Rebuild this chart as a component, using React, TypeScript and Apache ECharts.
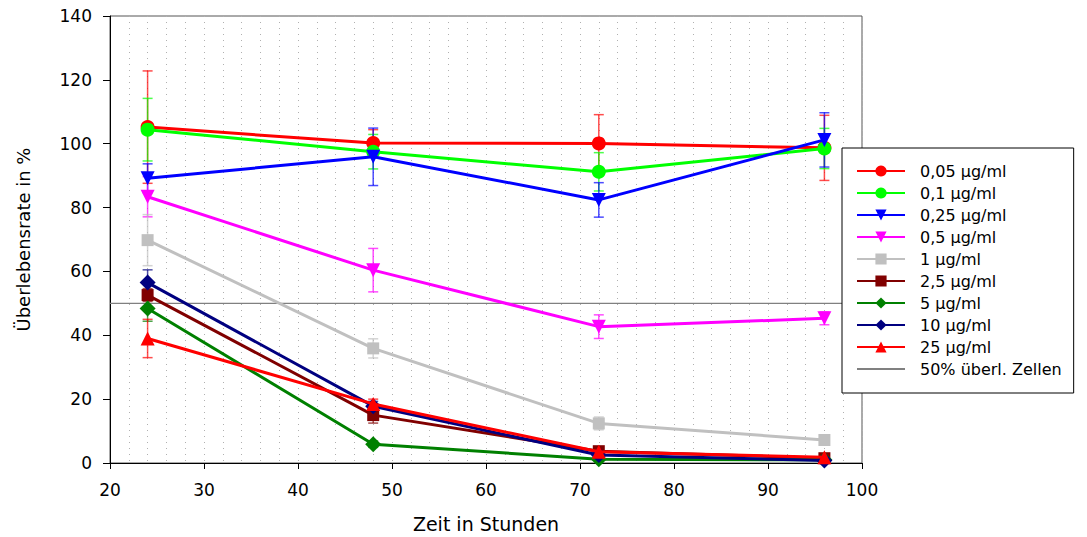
import React, { useEffect, useRef } from "react";
import * as echarts from "echarts";

const hours = [24, 48, 72, 96];
const names = ["0,05 µg/ml", "0,1 µg/ml", "0,25 µg/ml", "0,5 µg/ml", "1 µg/ml", "2,5 µg/ml", "5 µg/ml", "10 µg/ml", "25 µg/ml"];
const colors = ["#FF0000", "#00FF00", "#0000FF", "#FF00FF", "#C0C0C0", "#800000", "#008000", "#000080", "#FF0000"];
const symbols = ["circle", "circle", "triangle", "triangle", "rect", "rect", "diamond", "diamond", "triangle"];
const symbolRotations = [0, 0, 180, 180, 0, 0, 0, 0, 0];
const symbolSizes = [14, 14, 14, 14, 12, 12, 16, 16, 14];

const v005 = [105.2, 100.2, 100.1, 98.7];
const v01 = [104.4, 97.5, 91.2, 98.5];
const v025 = [89.2, 95.9, 82.4, 101.2];
const v05 = [83.4, 60.4, 42.7, 45.3];
const v1 = [69.8, 35.9, 12.4, 7.2];
const v25 = [52.6, 15.0, 3.7, 1.5];
const v5 = [48.4, 5.9, 1.2, 1.0];
const v10 = [56.5, 17.8, 2.5, 0.8];
const v25b = [39.0, 18.5, 3.5, 1.8];

const e005 = [17.6, 4.2, 9.0, 10.2];
const e01 = [9.8, 5.4, 6.0, 6.3];
const e025 = [4.5, 9.0, 5.4, 8.5];
const e05 = [6.3, 6.8, 3.7, 2.0];
const e1 = [8.0, 3.0, 2.0, 1.0];
const e25 = [2.0, 2.5, 1.0, 0.5];
const e5 = [4.0, 1.0, 0.5, 0.5];
const e10 = [4.0, 1.5, 1.0, 0.5];
const e25b = [6.0, 1.5, 1.0, 0.5];

const values = [v005, v01, v025, v05, v1, v25, v5, v10, v25b];
const errors = [e005, e01, e025, e05, e1, e25, e5, e10, e25b];

const refName = "50% überl. Zellen";
const refX = [20, 100];
const refY = 50;

const xTicks = { min: 20, max: 100, interval: 10 };
const yTicks = { min: 0, max: 140, interval: 20 };

const FONT = "DejaVu Sans";

export default function App() {
  const ref = useRef<HTMLDivElement>(null);
  useEffect(() => {
    if (!ref.current) return;
    const chart = echarts.init(ref.current, null, { renderer: "svg" });
    const series: any[] = [];
    series.push({
      name: refName,
      type: "line",
      data: refX.map((x) => [x, refY]),
      symbol: "none",
      lineStyle: { color: "#808080", width: 1.2 },
      itemStyle: { color: "#808080" },
      z: 1,
    });
    names.forEach((n, i) => {
      series.push({
        name: n + "_err",
        type: "custom",
        data: hours.map((h, j) => [h, values[i][j] - errors[i][j], values[i][j] + errors[i][j]]),
        renderItem: (params: any, api: any) => {
          const x = api.value(0);
          const lo = api.coord([x, api.value(1)]);
          const hi = api.coord([x, api.value(2)]);
          const st = { stroke: colors[i], lineWidth: 1.5, opacity: 0.7 };
          return {
            type: "group",
            children: [
              { type: "line", shape: { x1: lo[0], y1: lo[1], x2: hi[0], y2: hi[1] }, style: st },
              { type: "line", shape: { x1: lo[0] - 5, y1: lo[1], x2: lo[0] + 5, y2: lo[1] }, style: st },
              { type: "line", shape: { x1: hi[0] - 5, y1: hi[1], x2: hi[0] + 5, y2: hi[1] }, style: st },
            ],
          };
        },
        z: 2,
        silent: true,
      });
    });
    names.forEach((n, i) => {
      series.push({
        name: n,
        type: "line",
        data: hours.map((h, j) => [h, values[i][j]]),
        symbol: symbols[i],
        symbolRotate: symbolRotations[i],
        symbolSize: symbolSizes[i],
        lineStyle: { color: colors[i], width: 3 },
        itemStyle: { color: colors[i] },
        z: 3 + i * 0.01,
      });
    });

    chart.setOption({
      animation: false,
      backgroundColor: "#fff",
      grid: {
        left: 110,
        right: 225,
        top: 16,
        bottom: 74,
        containLabel: false,
        outerBoundsMode: "none",
        show: true,
        borderColor: "#555",
        borderWidth: 1,
        backgroundColor: "transparent",
      },
      legend: {
        data: [...names.map((n) => ({ name: n })), { name: refName, itemStyle: { opacity: 0 } }],
        orient: "vertical",
        left: 842,
        top: 148,
        padding: [15, 12, 16, 14],
        itemGap: 6,
        itemWidth: 48,
        itemHeight: 14,
        backgroundColor: "#fff",
        borderColor: "#000",
        borderWidth: 1,
        textStyle: { fontFamily: FONT, fontSize: 16, lineHeight: 16, color: "#000", padding: [0, 0, 0, 10] },
        z: 10,
      },
      xAxis: {
        type: "value",
        min: xTicks.min,
        max: xTicks.max,
        interval: xTicks.interval,
        name: "Zeit in Stunden",
        nameLocation: "middle",
        nameGap: 51,
        nameTextStyle: { fontFamily: FONT, fontSize: 19, color: "#000" },
        axisLine: { show: true, onZero: false, lineStyle: { color: "#000", width: 1 } },
        axisTick: { show: true, inside: false, length: 6, lineStyle: { color: "#000" } },
        axisLabel: { fontFamily: FONT, fontSize: 17, color: "#000", margin: 18 },
        splitLine: { show: true, lineStyle: { color: "#b0b0b0", type: [1, 5], width: 1 } },
        minorSplitLine: { show: true, lineStyle: { color: "#b0b0b0", type: [1, 5], width: 1 } },
        minorTick: { show: false, splitNumber: 5 },
      },
      yAxis: {
        type: "value",
        min: yTicks.min,
        max: yTicks.max,
        interval: yTicks.interval,
        name: "Überlebensrate in %",
        nameLocation: "middle",
        nameGap: 78,
        nameTextStyle: { fontFamily: FONT, fontSize: 18, color: "#000" },
        axisLine: { show: true, lineStyle: { color: "#000", width: 1 } },
        axisTick: { show: true, inside: false, length: 7, lineStyle: { color: "#000" } },
        axisLabel: { fontFamily: FONT, fontSize: 17, color: "#000", margin: 18 },
        splitLine: { show: false },
      },
      series,
    });
    return () => chart.dispose();
  }, []);
  return <div ref={ref} style={{ position: "fixed", left: 0, top: 0, width: 1087, height: 537 }} />;
}
